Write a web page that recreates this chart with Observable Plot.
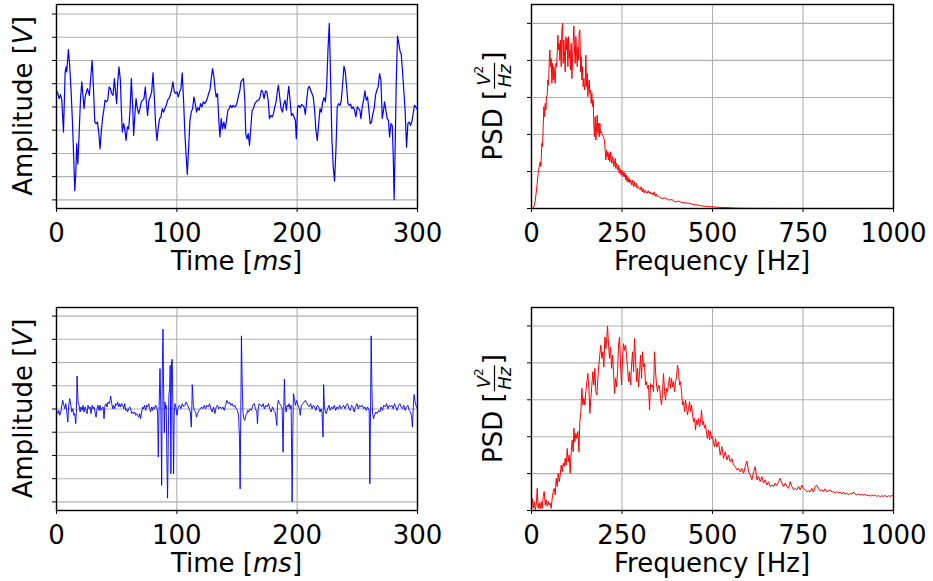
<!DOCTYPE html>
<html>
<head>
<meta charset="utf-8">
<script src="https://cdn.jsdelivr.net/npm/d3@7"></script>
<script src="https://cdn.jsdelivr.net/npm/@observablehq/plot@0.6"></script>
<style>
  html, body { margin: 0; padding: 0; background: white; }
  #fig { position: relative; width: 933px; height: 581px; background: white; overflow: hidden; }
  #fig svg { position: absolute; overflow: visible; max-width: none; }
</style>
</head>
<body>
<div id="fig"></div>
<script>
// ---------- tick values ----------
const timeTicks = [0, 100, 200, 300];
const freqTicks = [0, 250, 500, 750, 1000];
const ampTicks = [-4, -3, -2, -1, 0, 1, 2, 3, 4];
const psdTicks = [0, 1, 2, 3, 4, 5];

// ---------- signal 1 (top-left): [time ms, amplitude] ----------
const signal1 = [[0,0.6],[0.8,0.65],[2.2,0.36],[3.3,0.53],[4.4,0.29],[5.8,-1.08],[7.2,1.51],[8.0,1.73],[8.5,1.51],[9.9,2.47],[11.0,1.73],[12.1,0.72],[13.2,-0.58],[14.1,-1.87],[15.2,-3.6],[16.0,-2.88],[16.8,-1.58],[17.7,-2.45],[18.8,-1.15],[19.9,0.29],[21.0,1.08],[22.1,0.43],[22.9,-0.07],[23.8,0.43],[24.9,0.65],[25.7,0.79],[26.5,0.65],[27.3,0.5],[28.5,1.29],[29.6,2.01],[30.7,0.86],[31.8,-0.65],[32.9,-0.72],[34.0,-0.65],[35.1,-1.08],[36.2,-1.8],[37.3,-1.01],[38.4,-0.43],[39.5,-0.07],[40.3,0.29],[41.5,0.22],[42.6,0.29],[43.7,0.86],[44.8,0.79],[45.9,0.58],[47.0,0.5],[48.1,1.22],[49.2,0.58],[50.0,0.14],[50.8,1.01],[51.9,1.73],[53.1,1.15],[53.9,-0.14],[54.7,-1.08],[55.8,-0.72],[56.7,-0.94],[57.8,-1.44],[58.9,-0.86],[60.0,-0.94],[61.1,-0.14],[62.2,1.22],[63.3,0.0],[64.1,-1.22],[65.2,-0.29],[66.1,0.36],[67.2,-0.07],[68.3,-0.29],[69.4,-0.07],[70.5,0.22],[71.6,0.29],[72.7,0.36],[73.8,0.86],[74.6,0.29],[75.7,-0.36],[76.8,0.29],[77.9,0.43],[79.1,0.65],[80.2,1.47],[81.3,0.43],[82.4,-0.79],[83.5,-1.44],[84.6,-0.86],[85.7,-0.5],[86.8,-0.43],[87.9,-0.07],[89.0,-0.22],[90.1,-0.07],[91.2,0.07],[92.3,0.29],[93.4,0.36],[94.5,0.5],[95.6,0.72],[96.7,1.08],[97.9,0.65],[99.0,0.58],
[100.1,0.65],[101.2,0.43],[102.3,0.65],[103.4,0.79],[104.5,1.47],[105.6,0.29],[106.7,-1.15],[107.8,-2.16],[108.7,-2.91],[109.8,-1.73],[110.9,-0.58],[112.0,-0.22],[113.1,-0.07],[114.2,0.43],[115.3,0.14],[116.4,-0.22],[117.5,-0.03],[118.6,-0.14],[119.7,0.14],[120.8,0.0],[121.9,0.22],[123.1,0.14],[124.2,0.22],[125.3,0.36],[126.4,0.58],[127.5,0.72],[128.6,1.22],[129.7,1.65],[130.8,1.29],[131.9,0.72],[132.7,0.43],[133.8,0.58],[134.9,-0.58],[135.8,-1.29],[136.9,-0.5],[138.0,-0.94],[139.1,-0.65],[140.2,-0.94],[141.3,-0.58],[142.4,-0.14],[143.5,-0.07],[144.6,0.07],[145.7,-0.03],[146.8,0.07],[147.9,0.0],[149.0,0.03],[150.2,0.22],[151.3,0.5],[152.4,0.72],[153.2,1.08],[154.3,1.15],[155.4,1.22],[156.5,0.29],[157.3,-1.15],[158.4,-1.37],[159.3,-1.15],[160.4,-1.65],[161.5,-0.86],[162.6,-0.14],[163.7,-0.07],[164.8,0.14],[165.9,0.22],[167.0,0.29],[168.1,0.29],[169.2,0.43],[170.3,0.72],[171.4,0.65],[172.5,0.36],[173.7,0.69],[174.8,0.65],[175.9,0.29],[177.0,-0.5],[178.1,-0.36],[179.2,-0.43],[180.3,-0.29],[181.4,0.0],[182.5,0.22],[183.3,0.58],[184.4,0.94],[185.5,0.43],[186.6,-0.07],[187.8,-0.22],[188.9,0.14],[190.0,0.29],[191.1,-0.14],[191.9,0.36],[193.0,0.89],[194.1,0.29],[195.2,-0.36],[196.3,-0.29],[197.4,-0.43],[198.5,-0.58],
[199.3,-1.37],[200.4,0.0],[201.3,0.07],[202.4,-0.03],[203.5,0.1],[204.6,0.07],[205.7,0.0],[206.8,-0.32],[207.9,0.29],[209.0,0.79],[210.1,0.89],[211.2,0.72],[212.3,0.58],[213.4,0.43],[214.5,-0.14],[215.6,-1.01],[216.7,-1.44],[217.9,-0.72],[219.0,-0.07],[220.1,-0.22],[221.2,0.22],[222.3,0.4],[223.4,0.22],[224.5,0.86],[225.6,2.45],[226.7,3.6],[227.8,1.15],[228.9,-1.44],[230.0,-2.59],[231.1,-3.19],[232.2,-1.87],[233.3,0.0],[234.4,0.14],[235.6,0.07],[236.7,0.29],[237.8,1.01],[238.9,1.76],[240.0,1.51],[241.1,0.86],[242.2,0.14],[243.3,0.07],[244.4,0.12],[245.5,-0.07],[246.6,0.0],[247.7,-0.14],[248.8,-0.43],[249.9,0.0],[251.0,-0.07],[252.1,-0.14],[253.0,-0.5],[254.1,0.0],[255.2,0.29],[256.3,0.69],[257.4,0.29],[258.5,0.43],[259.6,-0.14],[260.7,-0.72],[261.8,-0.65],[262.9,-0.29],[264.0,-0.07],[265.1,0.5],[266.2,0.72],[267.3,0.86],[268.5,1.44],[269.6,1.15],[270.7,-0.5],[271.8,-0.14],[272.6,0.22],[273.7,-0.14],[274.8,-0.5],[275.9,-0.58],[276.8,-1.29],[277.9,-0.72],[279.0,-0.79],[279.8,-2.01],[280.6,-3.99],[281.5,-1.58],[282.3,1.01],[283.4,3.05],[284.5,2.73],[285.6,2.37],[286.4,2.3],[287.5,1.58],[288.6,0.72],[289.7,-0.14],[290.9,-1.73],[292.0,-0.72],[293.1,-0.65],[294.2,-0.79],[295.3,-0.65],[296.4,-0.29],[297.5,0.07],[298.6,0.0],[300,-0.12]];

// ---------- signal 2 (bottom-left): [time ms, amplitude] ----------
const signal2 = [[0,-0.06],[1.1,-0.2],[1.9,-0.06],[2.7,-0.27],[3.6,-0.13],[4.4,0.16],[5.2,0.37],[6.1,0.16],[6.9,0.01],[7.7,0.23],[8.5,-0.13],[9.4,-0.56],[10.2,0.16],[11.0,0.45],[11.9,0.16],[12.7,-0.13],[13.5,0.01],[14.4,-0.27],[15.2,-0.2],[16.0,-0.63],[16.6,0.01],[17.1,1.42],[17.9,0.3],[18.8,0.16],[19.6,-0.13],[20.4,0.09],[21.3,-0.06],[22.1,0.16],[22.9,-0.13],[23.8,0.09],[24.6,-0.06],[25.4,-0.2],[26.2,0.16],[27.1,0.01],[27.9,0.09],[28.7,-0.2],[29.6,0.16],[30.4,0.01],[31.2,0.09],[32.0,-0.13],[32.9,-0.35],[33.7,0.01],[34.5,0.16],[35.4,-0.06],[36.2,0.16],[37.0,-0.06],[37.9,0.01],[38.7,0.09],[39.5,-0.42],[40.3,0.16],[41.2,0.23],[42.0,0.09],[42.8,0.3],[43.7,0.23],[44.5,0.37],[45.0,0.56],[45.9,0.23],[46.7,0.01],[47.5,0.16],[48.4,0.01],[49.2,0.23],[50.0,0.16],[50.8,0.3],[51.7,0.09],[52.5,0.23],[53.3,0.09],[54.2,0.23],[55.0,0.16],[55.8,0.01],[56.7,0.23],[57.5,-0.06],[58.3,0.01],[59.1,-0.13],[60.0,0.01],[60.8,0.09],[61.6,0.01],[62.5,-0.2],[63.3,-0.13],[64.1,-0.2],[65.0,-0.13],[65.8,-0.27],[66.6,-0.2],[67.4,-0.27],[68.3,-0.35],[69.1,-0.2],[69.9,-0.42],[70.8,-0.13],[71.6,0.09],[72.4,0.01],[73.2,0.16],[74.1,-0.06],[74.9,0.16],[75.7,0.09],[76.6,0.23],[77.4,0.01],[78.2,-0.13],[79.1,0.09],[79.9,-0.06],[80.7,0.09],[81.5,0.01],[82.4,0.16],[83.2,0.09],[84.0,-0.13],[84.6,-2.07],[85.1,-0.35],[86.0,1.74],[86.8,-0.27],[87.4,-3.29],[87.9,1.6],[88.5,3.44],[89.0,0.88],[89.6,-1.02],[90.1,0.3],[90.7,0.01],[91.2,0.16],[91.8,-2.43],[92.3,-3.84],[92.9,-1.28],[93.4,0.59],[94.0,0.88],[94.5,1.88],[95.1,-2.79],[95.6,2.03],[96.2,2.14],[96.7,0.16],[97.3,-2.79],[97.8,-0.27],[98.4,0.23],[98.9,0.16],[99.8,-0.13],
[100.1,-0.27],[101.2,0.09],[102.3,0.16],[103.4,0.01],[104.5,0.23],[105.6,0.09],[106.7,0.16],[107.8,0.3],[109.0,0.16],[110.1,0.01],[111.2,-0.13],[112.0,-0.78],[112.5,0.16],[112.8,1.05],[113.7,0.16],[114.5,-0.06],[115.6,-0.13],[116.4,-0.35],[117.2,-0.2],[118.4,-0.06],[119.5,0.01],[120.6,0.09],[121.7,0.01],[122.8,0.16],[123.9,0.01],[125.0,0.16],[126.1,0.09],[127.2,0.23],[128.3,0.01],[129.4,-0.13],[130.5,0.09],[131.6,-0.2],[132.7,0.09],[133.8,0.16],[134.9,0.01],[136.0,0.09],[137.2,0.01],[138.3,0.09],[139.4,-0.06],[140.5,0.16],[141.6,0.37],[142.7,0.23],[143.8,0.3],[144.9,0.16],[146.0,0.23],[147.1,0.09],[148.2,0.16],[149.3,0.01],[150.4,-0.06],[151.3,-0.27],[152.1,-1.28],[152.6,-3.44],[153.2,0.16],[153.7,3.15],[154.3,1.17],[154.9,-0.13],[155.7,-0.42],[156.5,-0.49],[157.3,-0.27],[158.2,-0.2],[159.0,-0.06],[159.8,-0.13],[160.9,0.01],[162.0,-0.06],[163.1,0.16],[164.3,0.23],[165.4,0.01],[166.5,-0.13],[167.0,-0.63],[167.6,0.01],[168.4,0.23],[169.5,0.16],[170.6,0.09],[171.7,0.23],[172.8,0.01],[173.9,0.16],[175.0,0.09],[176.1,0.23],[177.2,0.01],[178.4,-0.13],[179.5,0.09],[180.6,-0.06],[181.7,-0.13],[182.5,-0.42],[183.1,-0.71],[183.6,0.16],[184.4,0.37],[185.3,0.23],[186.4,0.16],[187.5,0.01],[188.3,-1.86],[188.9,0.16],[189.4,1.28],[190.0,0.16],[190.8,-0.13],[191.6,0.16],[192.5,0.09],[193.3,0.23],[194.1,0.01],[195.0,0.16],[195.8,-3.99],[196.3,-1.28],[196.9,0.66],[197.7,0.45],[198.5,0.16],
[199.6,0.37],[200.7,0.16],[201.8,0.01],[202.6,-0.27],[203.5,0.16],[204.6,0.23],[205.7,0.3],[206.8,0.37],[207.9,0.27],[209.0,0.16],[210.1,0.09],[211.2,0.23],[212.3,0.01],[213.4,0.16],[214.5,0.09],[215.6,-0.06],[216.7,0.16],[217.9,0.09],[219.0,-0.13],[219.8,0.01],[220.6,-0.13],[221.5,-1.21],[222.0,1.05],[222.6,0.16],[223.4,-0.13],[224.2,-0.2],[225.3,0.01],[226.4,0.16],[227.5,-0.06],[228.6,0.09],[229.7,0.01],[230.9,0.16],[232.0,-0.06],[233.1,0.09],[234.2,0.01],[235.3,0.16],[236.4,0.01],[237.5,0.09],[238.6,0.16],[239.7,0.01],[240.8,0.16],[241.9,0.23],[243.0,0.01],[244.1,-0.06],[245.2,0.16],[246.3,0.09],[247.4,-0.13],[248.5,0.09],[249.7,0.23],[250.8,0.01],[251.9,0.16],[253.0,0.09],[254.1,0.16],[255.2,0.01],[256.3,0.09],[257.4,-0.06],[258.5,0.09],[259.3,0.01],[259.9,-0.13],[260.4,-3.22],[261.0,0.16],[261.5,3.15],[262.1,0.88],[262.6,-0.13],[263.5,-0.42],[264.3,-0.27],[265.4,-0.13],[266.5,-0.2],[267.6,-0.06],[268.7,-0.13],[269.8,0.09],[270.9,-0.06],[272.0,0.16],[273.2,0.09],[274.3,0.23],[275.4,0.01],[276.5,0.16],[277.6,0.09],[278.7,0.16],[279.8,0.01],[280.9,0.23],[282.0,0.09],[283.1,-0.06],[284.2,0.16],[285.3,0.23],[286.4,0.09],[287.5,0.01],[288.6,0.16],[289.7,-0.06],[290.8,0.09],[292.0,0.16],[293.1,-0.06],[294.2,-0.13],[295.0,-0.27],[295.8,-0.78],[296.7,0.3],[297.2,0.62],[298.0,0.3],[299.1,0.09],[300,0.01]];

// ---------- PSD 1 (top-right): [frequency Hz, PSD] ----------
const psd1 = [[4.7,0],[9.3,0.14],[13.9,0.5],[18.5,0.95],[21.3,1.13],[24.0,1.26],[25.9,1.13],[28.6,1.76],[30.5,1.67],[32.3,2.21],[34.2,2.75],[36.0,2.48],[37.9,2.84],[39.7,2.66],[41.5,3.02],[43.4,3.06],[45.2,3.47],[47.1,3.33],[48.9,3.92],[50.8,4.28],[52.6,3.83],[54.4,4.05],[56.3,3.38],[58.1,3.92],[60.0,3.47],[61.8,3.83],[63.6,3.56],[65.5,3.38],[67.3,3.92],[69.2,3.83],[71.0,4.19],[72.9,4.68],[74.7,4.28],[76.5,4.46],[78.4,4.01],[80.2,4.55],[82.1,3.83],[83.9,4.82],[85.7,5.0],[87.6,3.92],[89.4,4.55],[91.3,4.1],[93.1,3.69],[95.0,4.64],[96.8,4.28],[98.6,4.59],[100.5,3.83],[102.3,4.64],[104.2,4.05],[106.0,4.28],[107.8,3.74],[109.7,4.46],[111.5,3.51],[113.4,4.05],[115.2,4.55],[117.1,4.93],[118.9,4.28],[120.7,3.92],[122.6,4.64],[124.4,4.19],[126.3,3.83],[128.1,4.37],[129.9,4.01],[131.8,4.77],[133.6,4.82],[135.5,3.69],[137.3,4.1],[139.1,3.47],[141.0,3.83],[142.8,3.29],[144.7,3.51],[146.5,3.2],[148.4,3.38],[150.2,4.14],[152.0,3.29],[153.9,3.65],[155.7,3.02],[157.6,3.29],[159.4,3.47],[161.2,3.11],[163.1,3.2],[164.9,2.84],[166.8,3.11],[168.6,2.75],[170.5,2.93],[172.3,2.21],[174.1,1.94],[176.0,2.48],[177.8,1.85],[179.7,2.21],[181.5,2.52],[183.3,2.03],[185.2,2.3],[187.0,1.94],[188.9,2.3],[190.7,2.03],[192.6,2.07],[194.4,2.03],[196.2,1.98],[198.1,1.94],[199.9,1.89],[201.8,1.85],[203.6,1.53],[205.4,1.31],[207.3,1.58],[209.1,1.4],[211.0,1.53],[212.8,1.31],[214.6,1.49],[216.5,1.26],[218.3,1.53],[220.2,1.35],[222.0,1.22],[223.9,1.4],[225.7,1.31],[227.5,1.13],[229.4,1.26],[231.2,1.35],[233.1,1.08],[234.9,1.22],[236.7,1.13],[238.6,1.04],[240.4,1.17],[242.3,0.95],[244.1,1.08],[245.9,0.99],[247.8,0.9],[249.6,1.04],[251.5,0.95],[253.3,0.86],[255.2,0.99],[257.0,0.86],[258.8,0.95],[260.7,0.77],[262.5,0.9],[264.4,0.72],[266.2,0.86],[268.1,0.72],[269.9,0.81],[271.7,0.68],[273.6,0.77],[275.4,0.72],[277.3,0.63],[279.1,0.77],[280.9,0.68],[282.8,0.59],[284.6,0.72],[286.5,0.63],[288.3,0.59],[290.2,0.68],[292.0,0.54],[294.8,0.59],[297.5,0.54],[300.3,0.5],[303.0,0.59],[305.8,0.45],[308.6,0.54],[311.3,0.42],[314.1,0.5],[316.9,0.45],[319.6,0.41],[322.4,0.48],[325.1,0.41],[327.9,0.45],[330.7,0.39],[333.4,0.42],[336.2,0.36],[339.0,0.45],[341.7,0.33],[344.5,0.39],[347.3,0.32],[350.9,0.33],[360.2,0.27],[369.4,0.29],[378.6,0.23],[387.8,0.24],[397.0,0.18],[406.2,0.2],[415.4,0.16],[424.6,0.15],[433.8,0.14],[443.0,0.12],[452.2,0.1],[461.5,0.09],[470.7,0.07],[479.9,0.06],[489.1,0.05],[498.3,0.045],[512.1,0.036],[530.5,0.027],[548.9,0.018],[567.3,0.01],[595,0.005],[650,0.003],[700,0.002],[800,0.001],[1000,0.0005]];

// ---------- PSD 2 (bottom-right): [frequency Hz, PSD] ----------
const psd2 = [[0.5,0.2],[2.0,0.33],[4.7,0.06],[7.5,0.24],[10.2,0.02],[13.0,0.15],[15.8,0.6],[18.5,0.06],[21.3,0.2],[24.0,0.05],[26.8,0.24],[29.6,0.06],[32.3,0.38],[35.1,0.51],[37.9,0.15],[40.6,0.29],[43.4,0.11],[46.2,0.24],[48.9,0.15],[51.7,0.2],[54.4,0.06],[57.2,0.33],[60.0,0.51],[62.7,0.6],[65.5,0.42],[68.2,0.87],[71.0,0.65],[73.8,1.01],[76.5,0.78],[79.3,0.96],[82.1,1.23],[84.8,1.05],[87.6,1.28],[90.3,1.19],[93.1,1.41],[95.9,1.23],[98.6,1.68],[101.4,1.32],[104.2,1.5],[106.9,1.01],[109.7,1.59],[112.4,1.91],[115.2,1.59],[117.0,2.23],[119.8,1.86],[122.6,2.09],[125.3,1.95],[128.1,2.14],[130.9,1.59],[133.6,2.41],[136.4,2.68],[139.1,3.31],[141.9,2.86],[144.7,3.04],[147.4,2.86],[150.2,3.22],[153.0,3.49],[155.7,3.71],[158.5,3.31],[161.2,2.63],[164.0,3.04],[166.8,3.4],[169.5,3.76],[172.3,3.4],[175.1,3.85],[177.8,3.22],[180.6,3.13],[183.3,3.58],[186.1,3.94],[188.9,4.25],[191.6,4.48],[194.4,4.12],[197.2,4.3],[199.9,3.89],[202.7,4.7],[205.4,4.39],[208.2,4.7],[210.0,5.0],[212.8,4.48],[215.6,4.12],[218.3,4.43],[221.1,3.85],[223.9,4.21],[226.6,3.76],[229.4,3.17],[232.2,3.58],[234.9,3.35],[237.7,3.76],[240.4,4.48],[243.2,4.7],[246.0,3.94],[248.7,3.4],[251.5,4.12],[254.3,4.52],[257.0,4.34],[259.8,4.48],[262.5,4.21],[265.3,3.85],[268.1,3.49],[270.8,3.76],[273.6,3.4],[276.4,3.94],[279.1,4.3],[281.9,3.76],[284.6,4.66],[287.4,4.12],[290.2,3.49],[292.9,3.85],[295.7,3.35],[298.5,3.76],[301.2,4.21],[304.0,3.58],[306.7,4.3],[309.5,3.89],[312.3,3.98],[315.0,3.4],[317.8,3.49],[320.6,3.31],[323.3,3.4],[326.1,2.72],[328.8,3.44],[331.6,3.35],[334.4,3.4],[337.1,3.22],[339.9,4.3],[342.7,3.76],[345.4,3.4],[348.2,3.22],[351.0,3.4],[353.7,3.35],[356.5,3.04],[359.2,2.86],[362.0,3.22],[364.8,3.71],[367.5,3.22],[370.3,2.99],[373.1,3.31],[375.8,3.22],[378.6,3.44],[381.3,3.62],[384.1,3.31],[386.9,3.58],[389.6,3.35],[392.4,3.49],[395.1,3.22],[397.9,3.49],[400.7,3.62],[403.4,3.94],[406.2,3.76],[409.0,3.4],[411.7,3.49],[414.5,3.22],[417.2,2.86],[420.0,2.95],[422.8,2.68],[425.5,2.99],[428.3,2.81],[431.1,2.59],[433.8,2.77],[436.6,2.95],[439.3,2.68],[442.1,2.86],[444.9,2.59],[447.6,2.41],[450.4,2.5],[453.1,2.18],[455.9,2.45],[458.7,2.32],[461.4,2.5],[464.2,2.27],[467.0,2.41],[469.7,2.72],[472.5,2.32],[475.2,2.41],[478.0,2.23],[480.8,2.32],[483.5,2.09],[486.3,1.95],[489.1,2.18],[491.8,1.91],[494.6,2.14],[497.3,1.95],[500.1,2.0],[502.9,1.82],[505.6,1.73],[508.4,1.95],[512.1,1.72],[516.7,1.86],[521.3,1.5],[525.9,1.73],[530.5,1.41],[535.1,1.59],[539.7,1.37],[544.3,1.5],[548.9,1.32],[553.5,1.41],[558.1,1.23],[562.7,1.19],[567.3,1.1],[571.9,1.14],[576.5,1.05],[581.1,1.14],[585.8,1.01],[590.4,1.19],[595.0,1.34],[599.6,1.05],[604.2,0.96],[608.8,0.83],[613.4,1.05],[618.0,1.19],[622.6,0.83],[627.2,0.92],[631.8,0.78],[636.4,0.92],[641.0,0.74],[645.6,0.83],[650.2,0.69],[654.8,0.78],[659.4,0.65],[664.0,0.69],[668.6,0.65],[673.2,0.74],[677.8,0.68],[682.4,0.78],[687.0,0.87],[691.6,0.74],[696.3,0.65],[700.9,0.74],[705.5,0.65],[710.1,0.6],[714.7,0.78],[719.3,0.65],[723.9,0.56],[728.5,0.6],[733.1,0.56],[737.7,0.65],[742.3,0.56],[746.9,0.69],[751.5,0.59],[756.1,0.56],[760.7,0.51],[765.3,0.53],[769.9,0.51],[774.5,0.6],[779.1,0.5],[783.7,0.65],[788.3,0.68],[792.9,0.59],[797.5,0.53],[802.1,0.56],[806.7,0.51],[811.3,0.59],[815.9,0.51],[820.6,0.53],[825.2,0.56],[829.8,0.5],[834.4,0.51],[839.0,0.47],[843.6,0.51],[848.2,0.47],[852.8,0.5],[857.4,0.45],[862.0,0.5],[866.6,0.44],[871.2,0.47],[875.8,0.42],[880.4,0.47],[885.0,0.44],[889.6,0.5],[894.2,0.44],[898.8,0.42],[903.4,0.45],[908.0,0.42],[912.6,0.44],[917.2,0.41],[921.8,0.44],[926.4,0.4],[931.1,0.42],[935.7,0.39],[940.3,0.42],[944.9,0.4],[949.5,0.42],[954.1,0.38],[958.7,0.41],[963.3,0.37],[967.9,0.4],[972.5,0.38],[977.1,0.41],[981.7,0.37],[986.3,0.4],[990.9,0.38],[995.5,0.41],[1000,0.39]];

// ---------- layout ----------
const FONT = "DejaVu Sans, Liberation Sans, sans-serif";
const FS = 26;
const fig = document.getElementById("fig");

function panel(cfg) {
  const svg = Plot.plot({
    width: cfg.w, height: cfg.h,
    marginLeft: cfg.ml, marginRight: cfg.mr, marginTop: cfg.mt, marginBottom: cfg.mb,
    style: {fontFamily: FONT, fontSize: FS + "px", color: "black", background: "white", overflow: "visible"},
    x: {domain: cfg.xDomain, label: null},
    y: {domain: cfg.yDomain, label: null},
    marks: [
      Plot.gridX(cfg.xTicks, {stroke: "#b0b0b0", strokeOpacity: 1, strokeWidth: 1.1}),
      Plot.gridY(cfg.yTicks, {stroke: "#b0b0b0", strokeOpacity: 1, strokeWidth: 1.1}),
      Plot.line(cfg.data, {x: d => d[0], y: d => d[1], stroke: cfg.color, strokeWidth: cfg.sw, curve: "linear"}),
      Plot.frame({stroke: "black", strokeWidth: 1.4}),
      Plot.axisX(cfg.xTicks, {tickSize: 4, tickPadding: 11, fontSize: FS, label: null, stroke: "black", fill: "black", tickFormat: d => String(d)}),
      Plot.axisY(cfg.yTicks, {tickSize: 4, tickFormat: () => "", label: null, stroke: "black"})
    ]
  });
  svg.style.left = cfg.left + "px";
  svg.style.top = cfg.top + "px";
  fig.appendChild(svg);

  const s = d3.select(svg);
  const cx = cfg.ml + (cfg.w - cfg.ml - cfg.mr) / 2;
  const cy = cfg.mt + (cfg.h - cfg.mt - cfg.mb) / 2;
  // x label
  const xl = s.append("text")
    .attr("x", cx).attr("y", cfg.h - cfg.mb + 61.5)
    .attr("text-anchor", "middle")
    .attr("font-family", FONT).attr("font-size", FS).attr("fill", "black");
  cfg.xLabel.forEach(p => xl.append("tspan").text(p.t).attr("font-style", p.i ? "italic" : "normal"));

  if (cfg.kind === "amp") {
    const yl = s.append("text")
      .attr("transform", `translate(${cfg.ml - 24.5},${cy}) rotate(-90)`)
      .attr("text-anchor", "middle")
      .attr("font-family", FONT).attr("font-size", FS).attr("fill", "black");
    yl.append("tspan").text("Amplitude [");
    yl.append("tspan").text("V").attr("font-style", "italic");
    yl.append("tspan").text("]");
  } else {
    // PSD [ V^2 / Hz ] with a stacked fraction; widths from DejaVu Sans metrics
    const wPSD = 2.716 * FS;       // "PSD ["
    const fw = 26;                 // fraction width
    const wBr = 0.39 * FS;         // "]"
    const total = wPSD + 1 + fw + 1 + wBr;
    const g = s.append("g")
      .attr("transform", `translate(${cfg.ml - 29.5},${cy}) rotate(-90) translate(${-total / 2},0)`)
      .attr("font-family", FONT).attr("fill", "black");
    g.append("text").attr("x", 0).attr("y", 0).attr("font-size", FS).attr("text-anchor", "start").text("PSD [");
    const fx = wPSD + 1;
    const num = g.append("text").attr("x", fx + fw / 2).attr("y", -11.5).attr("font-size", 18).attr("text-anchor", "middle");
    num.append("tspan").text("V").attr("font-style", "italic");
    num.append("tspan").text("2").attr("font-size", 12).attr("dy", -7);
    g.append("text").attr("x", fx + fw / 2).attr("y", 9.5).attr("font-size", 18)
      .attr("text-anchor", "middle").attr("font-style", "italic").text("Hz");
    g.append("line").attr("x1", fx).attr("x2", fx + fw).attr("y1", -7).attr("y2", -7)
      .attr("stroke", "black").attr("stroke-width", 1.2);
    g.append("text").attr("x", fx + fw + 1).attr("y", 0).attr("font-size", FS).attr("text-anchor", "start").text("]");
  }
  return svg;
}

const timeLabel = [{t: "Time ["}, {t: "ms", i: true}, {t: "]"}];
const freqLabel = [{t: "Frequency [Hz]"}];

panel({kind: "amp", data: signal1, color: "#0000ff", sw: 1.2,
  left: 0, top: 0, w: 466, h: 290, ml: 56, mr: 49, mt: 4, mb: 82,
  xDomain: [0, 300], yDomain: [-4.37, 4.41], xTicks: timeTicks, yTicks: ampTicks, xLabel: timeLabel});

panel({kind: "psd", data: psd1, color: "#ff0000", sw: 1,
  left: 466, top: 0, w: 467, h: 290, ml: 65, mr: 40, mt: 4, mb: 82,
  xDomain: [0, 1000], yDomain: [0, 5.51], xTicks: freqTicks, yTicks: psdTicks, xLabel: freqLabel});

panel({kind: "amp", data: signal2, color: "#0000ff", sw: 0.9,
  left: 0, top: 290, w: 466, h: 291, ml: 56, mr: 49, mt: 17, mb: 71,
  xDomain: [0, 300], yDomain: [-4.37, 4.37], xTicks: timeTicks, yTicks: ampTicks, xLabel: timeLabel});

panel({kind: "psd", data: psd2, color: "#ff0000", sw: 1,
  left: 466, top: 290, w: 467, h: 291, ml: 65, mr: 40, mt: 17, mb: 71,
  xDomain: [0, 1000], yDomain: [0, 5.5], xTicks: freqTicks, yTicks: psdTicks, xLabel: freqLabel});
</script>
</body>
</html>
